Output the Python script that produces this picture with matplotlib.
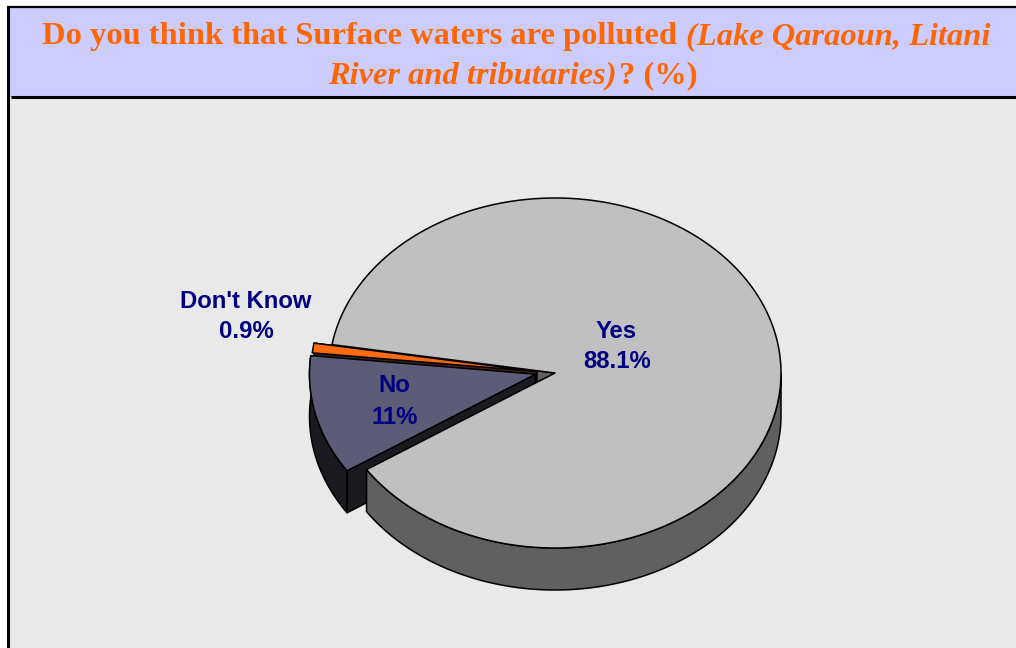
import numpy as np
import matplotlib
matplotlib.use("Agg")
import matplotlib.pyplot as plt
from matplotlib.patches import Polygon, Rectangle

# Data
labels = ["Yes", "Don't Know", "No"]
values = [88.1, 0.9, 11]
value_text = ["88.1%", "0.9%", "11%"]

ORANGE = "#ff6600"
NAVY = "#000080"

# pie geometry, in pixels
RX, RY, DEPTH = 226, 175, 42
START = 213.5
centers = {"Yes": (555, 373), "Don't Know": (537, 371.5), "No": (535.5, 374.2)}
top_col = {"Yes": "#c0c0c0", "Don't Know": "#ff6a13", "No": "#5c5c77"}
wall_col = {"Yes": "#606060", "Don't Know": "#3a2410", "No": "#1a1a20"}

fig = plt.figure(figsize=(10.16, 6.48), dpi=100)
ax = fig.add_axes([0, 0, 1, 1])
ax.set_xlim(0, 1016)
ax.set_ylim(648, 0)
ax.axis("off")

# panels
ax.add_patch(Rectangle((8, 7), 1008, 641, fc="#e9e9e9", ec="none", zorder=0))
ax.add_patch(Rectangle((8, 7), 1008, 90, fc="#ccccff", ec="none", zorder=0))
ax.plot([8, 8], [6, 648], color="black", lw=2.2, zorder=1, solid_capstyle="butt")
ax.plot([7, 1016], [7, 7], color="black", lw=1.6, zorder=1, solid_capstyle="butt")
ax.plot([11, 1016], [97, 97], color="black", lw=2.2, zorder=1, solid_capstyle="butt")


def arc(name, a0, a1, drop=0):
    cx, cy = centers[name]
    t = np.radians(np.linspace(a0, a1, 200))
    return np.column_stack([cx + RX * np.cos(t), cy - RY * np.sin(t) + drop])


def poly(pts, color, z):
    ax.add_patch(Polygon(pts, closed=True, fc=color, ec="black", lw=1.1,
                         joinstyle="round", zorder=z))


# slice angles come from the values
spans = {}
a = START
for name, v in zip(labels, values):
    spans[name] = (a, a + v * 3.6)
    a += v * 3.6


def side_wall(name, ang, z):
    cx, cy = centers[name]
    edge = arc(name, ang, ang)[0]
    poly([(cx, cy), edge, edge + [0, DEPTH], (cx, cy + DEPTH)], wall_col[name], z)


def outer_wall(name, a0, a1, z):
    poly(np.vstack([arc(name, a0, a1), arc(name, a1, a0, DEPTH)]), wall_col[name], z)


def top(name, z):
    a0, a1 = spans[name]
    poly(np.vstack([arc(name, a0, a1), centers[name]]), top_col[name], z)


# back to front
y0, y1 = spans["Yes"]
side_wall("Yes", y1, 2)
d0, d1 = spans["Don't Know"]
side_wall("Don't Know", d0, 3)
top("Don't Know", 4)
n0, n1 = spans["No"]
side_wall("No", n1 % 360, 5)
outer_wall("No", n0, n1, 5)
top("No", 6)
outer_wall("Yes", y0, 360, 7)
top("Yes", 8)

# slice labels
lab_font = dict(family="Liberation Sans", fontweight="bold", fontsize=17.2,
                color=NAVY, ha="center", va="center", zorder=10)
ax.text(616, 331, labels[0], **lab_font)
ax.text(617, 362, value_text[0], **lab_font)
ax.text(246, 301, labels[1], **lab_font)
ax.text(246, 332, value_text[1], **lab_font)
ax.text(394, 385, labels[2], **lab_font)
ax.text(395, 417, value_text[2], **lab_font)

# title, mixed bold and bold italic
t_font = dict(family="Liberation Serif", fontweight="bold", fontsize=23.4,
              color=ORANGE, va="baseline", zorder=10)
ax.text(42, 44, "Do you think that Surface waters are polluted", **t_font)
ax.text(686, 44, "(Lake Qaraoun, Litani", fontstyle="italic", **t_font)
ax.text(328, 83, "River and tributaries)", fontstyle="italic", **t_font)
ax.text(619, 83, "? (%)", **t_font)

fig.savefig("out.png", dpi=100, facecolor="white")
